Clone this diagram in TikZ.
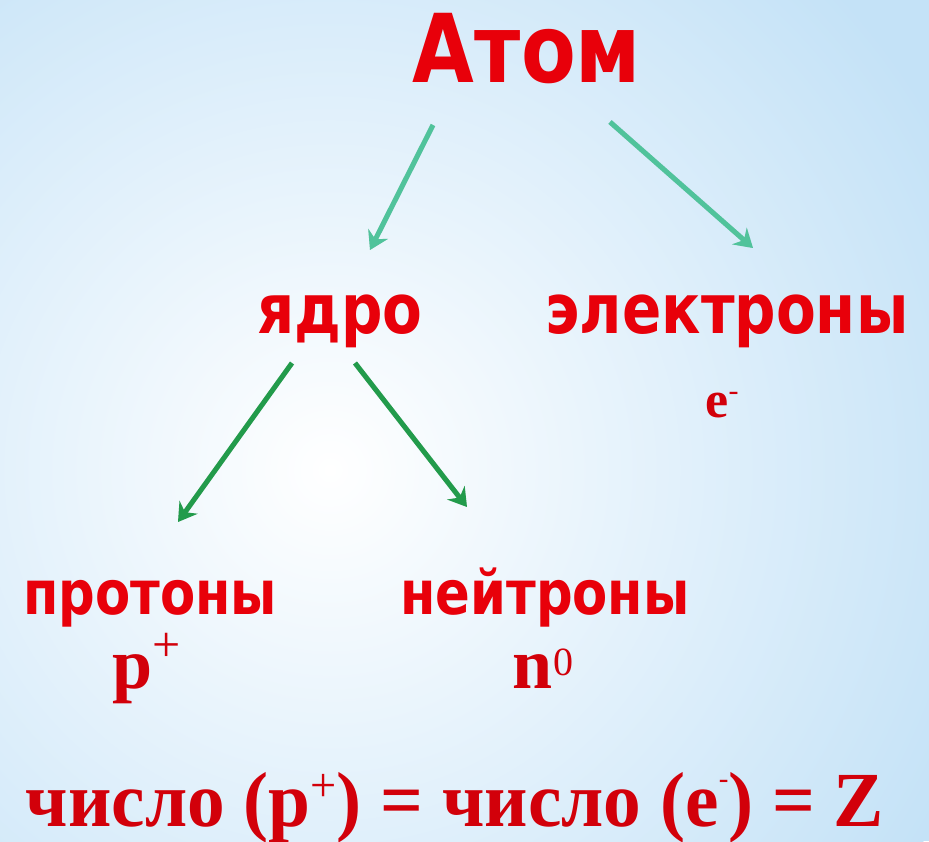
\documentclass[tikz,border=0pt]{standalone}
\usepackage{fontspec}
\setmainfont{Liberation Serif}
\newfontfamily\sansb{DejaVu Sans}[FakeStretch=0.84]
\newfontfamily\serc{Liberation Serif}[FakeStretch=0.965]
\usetikzlibrary{arrows.meta}
\definecolor{bgblue}{RGB}{196,226,247}
\definecolor{txtred}{RGB}{232,0,10}
\definecolor{serred}{RGB}{210,0,10}
\definecolor{teal1}{RGB}{80,195,155}
\definecolor{green1}{RGB}{34,155,75}
\newcommand\rsup[3]{\raisebox{#1}{\fontsize{#2}{#2}\selectfont\mdseries #3}}
\tikzset{
  sanstxt/.style={inner sep=0pt, anchor=base, text=txtred},
  sertxt/.style={inner sep=0pt, anchor=base, text=serred},
  arrbase/.style={line width=5pt, -{Stealth[length=18pt,width=22pt,inset=6pt]}},
  arrteal/.style={arrbase, draw=teal1},
  arrgreen/.style={arrbase, draw=green1},
  arrshadow/.style={arrbase, draw=black, opacity=0.10, shift={(2pt,-3pt)}}
}
\begin{document}
\begin{tikzpicture}[x=1pt,y=-1pt]
\useasboundingbox (0,0) rectangle (929,841);
\fill[bgblue] (0,0) rectangle (929,841);
\begin{scope}
\clip (0,0) rectangle (929,841);
\shade[inner color=white, outer color=bgblue] (330,470) circle (700);
\end{scope}
% texts
\node[sanstxt, font=\sansb\bfseries\fontsize{95}{100}\selectfont] (atom) at (527,82) {Атом};
\node[sanstxt, font=\sansb\bfseries\fontsize{69}{72}\selectfont] (yadro) at (340,333) {ядро};
\node[sanstxt, font=\sansb\bfseries\fontsize{69}{72}\selectfont] (elec) at (727,333) {электроны};
\node[sertxt, font=\bfseries\fontsize{52}{56}\selectfont] (esym) at (722,417) {e\rsup{17pt}{30}{-}};
\node[sanstxt, font=\sansb\bfseries\fontsize{61}{64}\selectfont] (prot) at (150,614) {протоны};
\node[sanstxt, font=\sansb\bfseries\fontsize{61}{64}\selectfont] (neut) at (545,614) {нейтроны};
\node[sertxt, font=\bfseries\fontsize{72}{76}\selectfont] (psym) at (147,688) {p\rsup{27pt}{50}{+}};
\node[sertxt, font=\bfseries\fontsize{72}{76}\selectfont] (nsym) at (543,688) {n\rsup{13pt}{40}{0}};
\node[sertxt, font=\serc\bfseries\fontsize{78}{80}\selectfont] (formula) at (455,826)
  {число (p\rsup{25pt}{48}{+}) = число (e\rsup{38pt}{30}{-}) = Z};
% arrow ends
\coordinate (a1s) at (433,125); \coordinate (a1e) at (370,250);
\coordinate (a2s) at (610,122); \coordinate (a2e) at (753,248);
\coordinate (a3s) at (292,363); \coordinate (a3e) at (178,522);
\coordinate (a4s) at (355,363); \coordinate (a4e) at (467,507);
\draw[arrshadow] (a1s) -- (a1e);
\draw[arrshadow] (a2s) -- (a2e);
\draw[arrshadow] (a3s) -- (a3e);
\draw[arrshadow] (a4s) -- (a4e);
\draw[arrteal] (a1s) -- (a1e);
\draw[arrteal] (a2s) -- (a2e);
\draw[arrgreen] (a3s) -- (a3e);
\draw[arrgreen] (a4s) -- (a4e);
\end{tikzpicture}
\end{document}
